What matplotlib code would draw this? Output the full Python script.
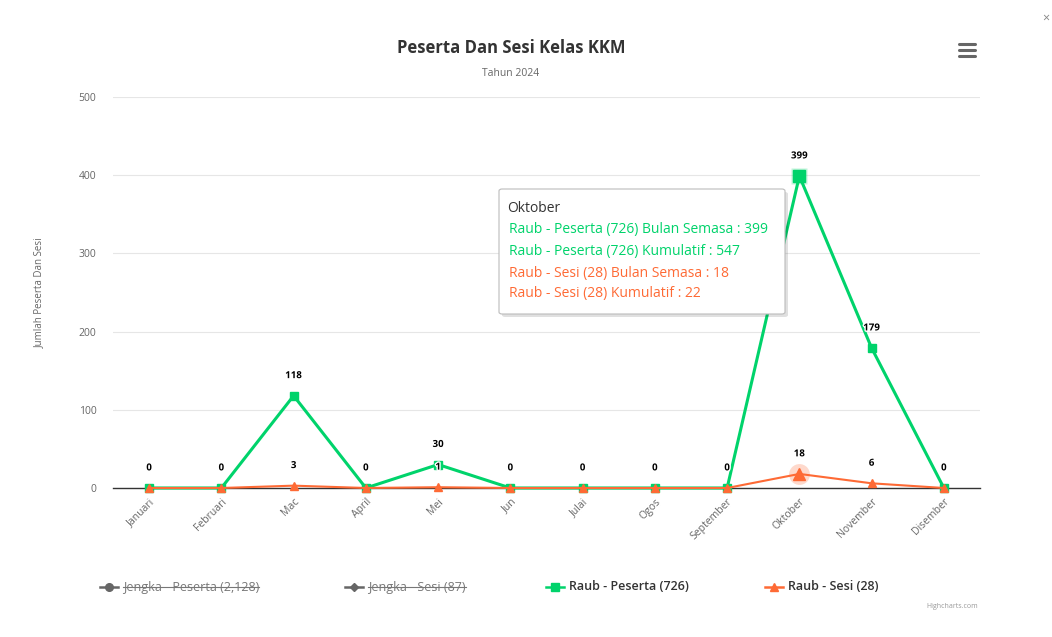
import matplotlib
matplotlib.use("Agg")
import matplotlib.pyplot as plt
from matplotlib.patches import FancyBboxPatch
from matplotlib.lines import Line2D
import matplotlib.patheffects as pe

months = ["Januari", "Februari", "Mac", "April", "Mei", "Jun", "Julai", "Ogos",
          "September", "Oktober", "November", "Disember"]
raub_peserta = [0, 0, 118, 0, 30, 0, 0, 0, 0, 399, 179, 0]
raub_sesi = [0, 0, 3, 0, 1, 0, 0, 0, 0, 18, 6, 0]
legend_labels = ["Jengka - Peserta (2,128)", "Jengka - Sesi (87)",
                 "Raub - Peserta (726)", "Raub - Sesi (28)"]
yticks = [0, 100, 200, 300, 400, 500]
tooltip_title = "Oktober"
tooltip_lines = ["Raub - Peserta (726) Bulan Semasa : 399",
                 "Raub - Peserta (726) Kumulatif : 547",
                 "Raub - Sesi (28) Bulan Semasa : 18",
                 "Raub - Sesi (28) Kumulatif : 22"]
hover_idx = 9

GREEN = "#00d36b"
ORANGE = "#fe6a35"
FONT = ["Open Sans", "DejaVu Sans"]
plt.rcParams['font.family'] = FONT

W, H = 1052, 637
fig = plt.figure(figsize=(W / 100, H / 100), dpi=100)
fig.patch.set_facecolor("white")

def fx(x):
    return x / W

def fy(y):
    return 1 - y / H

ax = fig.add_axes([fx(113), fy(488), fx(980) - fx(113), fy(97) - fy(488)])
x = list(range(len(months)))
ax.set_xlim(-0.5, len(months) - 0.5)
ax.set_ylim(0, 500)
ax.set_yticks(yticks)
ax.set_yticklabels([str(v) for v in yticks], fontsize=7.5, color="#666666")
ax.tick_params(axis="y", length=0, pad=12)
ax.set_xticks(x)
ax.set_xticklabels(months, rotation=45, ha="right", rotation_mode="anchor",
                   fontsize=7.5, color="#666666")
ax.tick_params(axis="x", length=0, pad=6)
for s in ["top", "right", "left"]:
    ax.spines[s].set_visible(False)
ax.spines["bottom"].set_color("#333333")
ax.spines["bottom"].set_linewidth(1)
ax.grid(axis="y", color="#e6e6e6", linewidth=0.8)
ax.set_axisbelow(True)
ax.set_ylabel("Jumlah Peserta Dan Sesi", fontsize=7, color="#666666")
ax.yaxis.set_label_coords(-0.078, 0.5)

# halos on hovered point
ax.plot([hover_idx], [raub_peserta[hover_idx]], "s", ms=11, color=GREEN, alpha=0.25,
        mec="none", zorder=4, clip_on=False)
ax.plot([hover_idx], [raub_sesi[hover_idx]], "o", ms=15, color=ORANGE, alpha=0.25,
        mec="none", zorder=4, clip_on=False)

ax.plot(x, raub_peserta, color=GREEN, lw=2.2, marker="s", ms=5.5, zorder=5, clip_on=False)
ax.plot([hover_idx], [raub_peserta[hover_idx]], "s", ms=8, color=GREEN, zorder=6, clip_on=False)
ax.plot(x, raub_sesi, color=ORANGE, lw=1.5, marker="^", ms=5.5, zorder=7, clip_on=False)
ax.plot([hover_idx], [raub_sesi[hover_idx]], "^", ms=8, color=ORANGE, zorder=8, clip_on=False)

outline = [pe.withStroke(linewidth=2, foreground="white")]
for xi, v in zip(x, raub_peserta):
    ax.annotate(str(v), (xi, v), xytext=(0, 10.5), textcoords="offset points",
                ha="center", va="bottom", fontsize=7, fontweight="bold", color="black",
                path_effects=outline, zorder=10)
for xi, v, g in zip(x, raub_sesi, raub_peserta):
    if v == g:
        continue
    ax.annotate(str(v), (xi, v), xytext=(0, 10.5), textcoords="offset points",
                ha="center", va="bottom", fontsize=7, fontweight="bold", color="black",
                path_effects=outline, zorder=10)

# titles
fig.text(fx(511), fy(48), "Peserta Dan Sesi Kelas KKM", ha="center", va="center",
         fontsize=12, fontweight="bold", color="#333333")
fig.text(fx(511), fy(74), "Tahun 2024", ha="center", va="center",
         fontsize=7.5, color="#666666")

# hamburger menu icon
for yy in [44, 50, 56]:
    fig.add_artist(Line2D([fx(959), fx(975)], [fy(yy), fy(yy)], color="#666666", lw=2.2,
                          solid_capstyle="round"))
# close x
fig.text(fx(1046), fy(18), "×", ha="center", va="center", fontsize=9, color="#888888")

# tooltip
shadow = FancyBboxPatch((fx(502), fy(317)), fx(785) - fx(499), fy(189) - fy(314),
                        boxstyle="round,pad=0,rounding_size=0.003", transform=fig.transFigure,
                        facecolor="#000000", alpha=0.12, edgecolor="none", zorder=20)
fig.add_artist(shadow)
box = FancyBboxPatch((fx(499), fy(314)), fx(785) - fx(499), fy(189) - fy(314),
                     boxstyle="round,pad=0,rounding_size=0.003", transform=fig.transFigure,
                     facecolor="white", edgecolor="#bbbbbb", lw=0.8, zorder=21)
fig.add_artist(box)
fig.text(fx(507), fy(209), tooltip_title, ha="left", va="center", fontsize=10,
         color="#333333", zorder=22)
tt_colors = [GREEN, GREEN, ORANGE, ORANGE]
for yy, t, c in zip([230, 251, 273, 293], tooltip_lines, tt_colors):
    fig.text(fx(509), fy(yy), t, ha="left", va="center", fontsize=10, color=c, zorder=22)

# legend
LEG_Y = 587
legend_items = [
    (100, "o", "#666666", legend_labels[0], True),
    (345, "D", "#666666", legend_labels[1], True),
    (546, "s", GREEN, legend_labels[2], False),
    (765, "^", ORANGE, legend_labels[3], False),
]
for x0, m, c, lab, hidden in legend_items:
    fig.add_artist(Line2D([fx(x0), fx(x0 + 18)], [fy(LEG_Y), fy(LEG_Y)], color=c, lw=1.8))
    fig.add_artist(Line2D([fx(x0 + 9)], [fy(LEG_Y)], marker=m, ms=5.5 if m != "D" else 4.5,
                          color=c, lw=0))
    tcol = "#777777" if hidden else "#333333"
    t = fig.text(fx(x0 + 23), fy(LEG_Y), lab, ha="left", va="center", fontsize=9,
                 color=tcol, fontweight="normal" if hidden else "semibold")
    if hidden:
        fig.canvas.draw()
        bb = t.get_window_extent()
        fig.add_artist(Line2D([bb.x0 / W, bb.x1 / W], [fy(LEG_Y), fy(LEG_Y)],
                              color="#777777", lw=0.8))

fig.text(fx(978), fy(607), "Highcharts.com", ha="right", va="center", fontsize=5,
         color="#999999")

fig.savefig("out.png", dpi=100, facecolor="white")
